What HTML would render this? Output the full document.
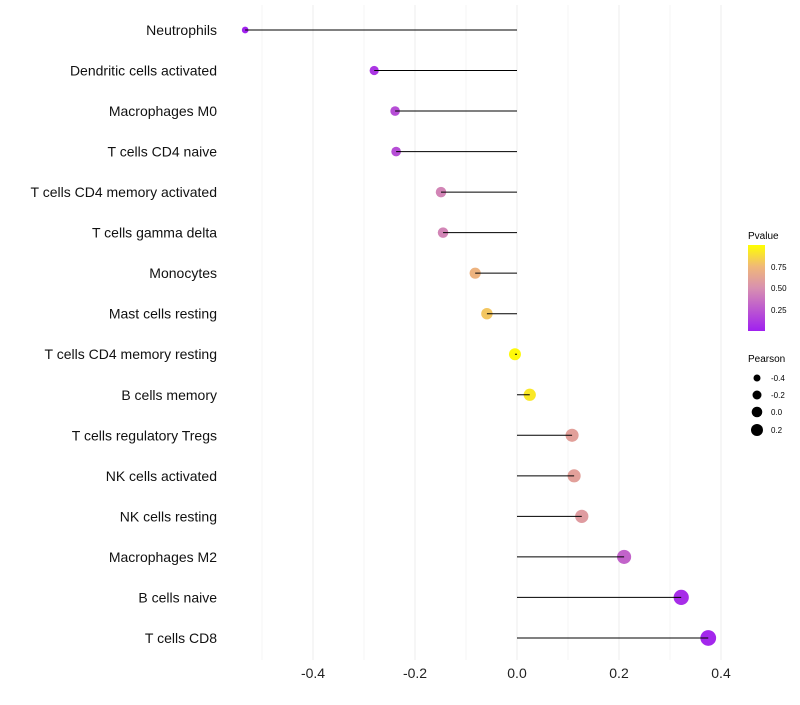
<!DOCTYPE html>
<html><head><meta charset="utf-8"><style>
body{margin:0;background:#fff;}
svg text{font-family:"Liberation Sans",sans-serif;}
</style></head><body>
<svg id="c" width="800" height="700">
<defs><linearGradient id="g" x1="0" y1="1" x2="0" y2="0">
<stop offset="0" stop-color="#a020f0"/><stop offset="0.5" stop-color="#d890b0"/><stop offset="0.75" stop-color="#f0b878"/><stop offset="1" stop-color="#ffff00"/>
</linearGradient></defs>
<g id="grid"></g><g id="dots"></g><g id="marks"></g><g id="axes"></g>
<g>
<text x="748" y="239" font-size="10">Pvalue</text>
<rect x="748" y="245" width="17" height="86" fill="url(#g)"/>
<text x="771" y="270" font-size="8">0.75</text>
<text x="771" y="291" font-size="8">0.50</text>
<text x="771" y="313" font-size="8">0.25</text>
</g>
<g>
<text x="748" y="362" font-size="10">Pearson</text>
<circle cx="757" cy="378" r="3.5"/><text x="771" y="381" font-size="8">-0.4</text>
<circle cx="757" cy="395" r="4.5"/><text x="771" y="398" font-size="8">-0.2</text>
<circle cx="757" cy="412" r="5.3"/><text x="771" y="415" font-size="8">0.0</text>
<circle cx="757" cy="430" r="6"/><text x="771" y="433" font-size="8">0.2</text>
</g>
</svg>
<script>
const categories=["Neutrophils","Dendritic cells activated","Macrophages M0","T cells CD4 naive","T cells CD4 memory activated","T cells gamma delta","Monocytes","Mast cells resting","T cells CD4 memory resting","B cells memory","T cells regulatory  Tregs ","NK cells activated","NK cells resting","Macrophages M2","B cells naive","T cells CD8"];
const pearson=[-0.533,-0.280,-0.239,-0.237,-0.149,-0.145,-0.082,-0.059,-0.004,0.025,0.108,0.112,0.127,0.210,0.322,0.375];
const pvalues=[0.01,0.1,0.2,0.2,0.45,0.45,0.72,0.8,0.98,0.92,0.6,0.6,0.57,0.3,0.06,0.03];
const xTicks=[-0.4,-0.2,0.0,0.2,0.4];
const xTickLabels=["-0.4","-0.2","0.0","0.2","0.4"];
const X=v=>517+v*510;
const Y=i=>30+i*40.53;
const ns="http://www.w3.org/2000/svg";
function mk(t,a,p){const e=document.createElementNS(ns,t);for(const k in a)e.setAttribute(k,a[k]);p.appendChild(e);return e;}
function col(p){
 const s=[[0,[160,32,240]],[0.5,[216,144,176]],[0.75,[240,184,120]],[1,[255,255,0]]];
 for(let i=0;i<s.length-1;i++){if(p<=s[i+1][0]){const t=(p-s[i][0])/(s[i+1][0]-s[i][0]);const c=s[i][1].map((v,j)=>Math.round(v+(s[i+1][1][j]-v)*t));return `rgb(${c})`;}}
 return "rgb(255,255,0)";
}
const grid=document.getElementById('grid'),marks=document.getElementById('marks'),dots=document.getElementById('dots'),axes=document.getElementById('axes');
for(let k=-5;k<=4;k++){const v=k/10;
 const l=mk('line',{x1:X(v),x2:X(v),y1:5,y2:660,stroke:k%2===0?'#ececec':'#f4f4f4','stroke-width':1},grid);
 
 }
xTicks.forEach((v,i)=>{const t=mk('text',{x:X(v),y:678,'font-size':14,'text-anchor':'middle',fill:'#222'},axes);t.textContent=xTickLabels[i];
 
 });
categories.forEach((c,i)=>{
 const t=mk('text',{x:217,y:Y(i)+5,'font-size':14,'text-anchor':'end',fill:'#111'},axes);t.textContent=c;
 
 
 const r=Math.max(1.8,6+5*pearson[i]);
 const d=mk('circle',{cx:X(pearson[i]),cy:Y(i),r:r,fill:col(pvalues[i])},dots);
 
 
 const l=mk('line',{x1:X(0),x2:X(pearson[i]),y1:Y(i),y2:Y(i),stroke:'#000','stroke-width':1},marks);
 
 
});
</script>
</body></html>
